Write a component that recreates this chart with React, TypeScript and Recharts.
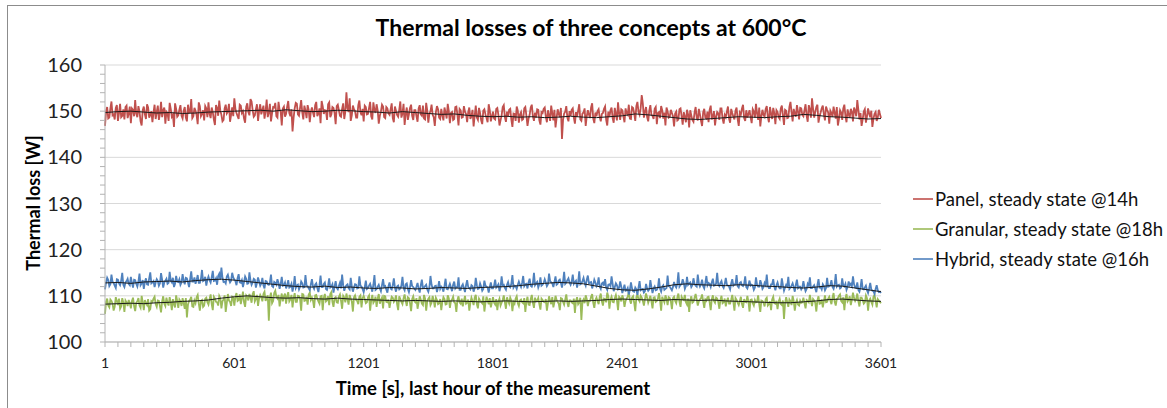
import React from "react";
import { LineChart, Line, XAxis, YAxis, CartesianGrid } from "recharts";

// readings every 5 s: "A" arrays at t = 1, 11, 21 ... 3601, "B" arrays at t = 6, 16 ... 3596
const STEP = 5;
const TREND_STEP = 60;

const panelA = [
  146.8, 150.9, 148.6, 152.1, 149.3, 150.7, 147.9, 151.6, 149.0, 148.2, 151.2, 149.5,
  147.4, 150.3, 152.4, 148.7, 149.9, 146.9, 151.0, 148.3, 150.8, 149.2, 147.6, 151.4,
  149.8, 148.1, 152.0, 150.2, 147.3, 149.6, 151.8, 148.8, 146.6, 150.5, 149.1, 151.3,
  148.4, 150.9, 147.8, 149.7, 152.6, 148.9, 150.1, 147.2, 151.1, 149.4, 148.0, 150.6,
  151.9, 148.5, 149.8, 147.0, 150.7, 152.3, 149.2, 148.1, 151.4, 149.9, 147.7, 150.8,
  152.8, 149.6, 148.3, 151.2, 150.0, 147.5, 151.7, 149.1, 152.1, 148.8, 150.4, 147.9,
  151.5, 150.2, 148.4, 152.5, 149.7, 147.8, 150.9, 151.8, 148.6, 150.3, 146.9, 151.0,
  149.4, 152.2, 148.9, 145.6, 150.6, 151.6, 149.0, 152.4, 148.2, 150.1, 151.3, 147.6,
  150.8, 148.7, 152.0, 149.5, 147.4, 151.1, 150.2, 148.1, 151.9, 149.3, 150.7, 147.2,
  151.4, 149.0, 150.5, 148.3, 154.1, 149.8, 147.9, 151.2, 150.0, 148.6, 152.3, 149.1,
  147.8, 150.9, 149.4, 152.0, 148.2, 150.3, 151.5, 147.3, 149.9, 151.0, 148.5, 150.6,
  149.2, 151.7, 147.6, 150.1, 148.8, 152.1, 149.5, 147.0, 150.8, 149.3, 151.4, 148.1,
  150.2, 147.7, 151.3, 149.0, 148.4, 151.8, 147.5, 150.0, 149.2, 146.8, 151.1, 148.6,
  150.5, 148.0, 149.7, 151.6, 147.4, 149.8, 148.3, 151.0, 146.9, 150.2, 148.7, 149.9,
  147.6, 150.8, 148.9, 146.7, 151.2, 148.1, 149.6, 147.2, 150.4, 148.5, 151.5, 147.8,
  149.9, 148.2, 150.7, 146.9, 149.1, 151.3, 147.7, 148.9, 150.5, 146.6, 149.4, 151.0,
  147.5, 149.8, 148.3, 150.9, 146.8, 149.2, 151.4, 147.9, 148.6, 150.3, 147.1, 149.6,
  150.8, 147.6, 149.1, 151.2, 148.0, 146.5, 150.4, 148.7, 144.0, 149.5, 151.1, 147.8,
  149.0, 150.6, 147.3, 148.8, 151.5, 147.9, 149.7, 146.8, 150.2, 148.5, 151.7, 147.4,
  148.9, 150.4, 147.8, 149.6, 151.0, 146.9, 148.7, 150.8, 147.5, 149.3, 151.9, 148.1,
  150.2, 147.6, 149.5, 151.4, 148.3, 150.7, 147.9, 152.0, 149.2, 153.5, 148.6, 150.9,
  147.8, 151.3, 149.0, 150.5, 147.2, 149.8, 151.1, 148.4, 146.9, 150.0, 148.8, 149.6,
  146.7, 149.9, 148.2, 150.6, 147.1, 148.8, 150.3, 146.5, 149.1, 147.7, 150.9, 148.0,
  149.3, 146.8, 150.5, 148.4, 147.6, 151.2, 148.9, 146.9, 149.8, 148.1, 150.6, 147.3,
  148.7, 151.0, 147.5, 149.6, 148.2, 150.8, 146.8, 149.3, 151.4, 147.9, 148.6, 150.2,
  147.4, 149.9, 151.6, 148.1, 146.7, 150.3, 148.8, 151.1, 147.6, 149.4, 150.7, 147.2,
  149.8, 148.3, 151.2, 147.0, 150.1, 148.6, 152.0, 147.8, 149.5, 151.3, 148.2, 150.6,
  148.9, 151.5, 147.7, 150.4, 152.8, 148.6, 150.9, 147.5, 149.7, 151.2, 148.0, 150.3,
  147.3, 149.6, 151.0, 148.4, 146.9, 150.2, 148.1, 151.4, 147.6, 149.3, 150.5, 147.8,
  150.1, 152.4, 148.2, 146.8, 149.9, 147.5, 150.6, 148.7, 146.6, 149.4, 147.9, 150.3,
  148.5,
];
const panelB = [
  149.9, 148.4, 150.6, 149.1, 148.2, 151.3, 149.6, 148.7, 150.4, 150.9, 148.5, 151.0,
  150.6, 148.9, 149.5, 151.1, 147.8, 150.2, 149.3, 151.5, 148.6, 150.0, 149.7, 148.3,
  151.2, 149.4, 148.7, 150.8, 149.9, 147.9, 150.5, 149.2, 151.7, 148.8, 150.3, 149.0,
  150.1, 148.6, 151.4, 149.8, 148.5, 150.7, 149.1, 151.9, 148.9, 150.2, 151.1, 148.7,
  149.4, 150.8, 148.2, 151.3, 149.0, 150.1, 147.8, 150.6, 149.5, 151.6, 149.2, 148.9,
  150.5, 148.9, 151.4, 149.6, 148.4, 150.9, 149.8, 152.6, 150.2, 149.1, 151.5, 150.0,
  149.3, 151.2, 150.0, 148.7, 151.6, 149.5, 150.8, 148.9, 152.0, 149.9, 150.6, 148.8,
  151.0, 149.6, 150.4, 148.6, 151.8, 149.3, 150.7, 149.8, 151.2, 148.5, 150.3, 149.9,
  149.7, 151.3, 148.9, 150.6, 152.2, 149.4, 150.1, 151.5, 148.7, 150.9, 149.6, 151.1,
  150.2, 148.8, 151.7, 149.9, 150.6, 152.8, 149.1, 150.4, 148.6, 151.3, 149.8, 150.5,
  151.2, 149.3, 150.7, 148.9, 151.9, 149.6, 150.2, 149.0, 151.4, 148.7, 150.9, 149.5,
  150.4, 148.5, 151.0, 149.2, 150.3, 148.6, 151.6, 149.4, 148.1, 150.7, 149.0, 150.2,
  148.9, 150.6, 149.3, 151.2, 148.2, 150.1, 149.5, 151.4, 148.7, 149.8, 150.4, 148.3,
  149.1, 150.8, 148.4, 150.0, 149.6, 148.1, 150.9, 149.2, 150.5, 148.6, 151.1, 149.4,
  149.8, 148.3, 150.3, 149.0, 148.6, 150.7, 148.0, 150.1, 149.3, 147.6, 150.2, 148.9,
  148.4, 150.5, 149.2, 148.0, 150.9, 148.7, 149.9, 150.3, 148.2, 149.5, 147.9, 150.1,
  149.3, 148.1, 150.6, 149.0, 148.4, 150.8, 148.9, 149.7, 150.4, 148.0, 149.8, 150.5,
  148.8, 150.2, 147.9, 149.6, 150.3, 148.5, 149.4, 150.7, 148.1, 149.9, 148.6, 150.0,
  150.3, 148.6, 149.8, 150.1, 148.2, 149.5, 150.6, 148.9, 149.3, 150.8, 148.4, 149.7,
  150.0, 148.7, 149.4, 150.5, 148.1, 149.9, 150.2, 148.5, 150.7, 148.0, 149.6, 150.4,
  148.8, 150.6, 149.2, 148.4, 150.9, 149.5, 151.1, 149.8, 150.6, 151.7, 149.9, 148.7,
  150.1, 149.2, 148.3, 150.9, 149.6, 148.5, 150.2, 149.7, 150.8, 148.6, 150.3, 148.9,
  149.5, 148.0, 150.4, 148.9, 149.8, 147.6, 149.3, 150.2, 148.1, 149.7, 148.6, 150.5,
  147.9, 149.8, 148.6, 149.9, 150.3, 148.2, 150.0, 148.8, 149.5, 150.6, 148.4, 149.2,
  149.9, 148.4, 150.5, 148.8, 150.1, 148.3, 149.7, 150.6, 148.5, 150.2, 149.4, 148.7,
  150.4, 148.6, 149.5, 150.8, 148.9, 149.2, 150.5, 148.7, 150.9, 148.3, 149.6, 150.2,
  148.7, 150.6, 149.1, 150.3, 148.5, 150.9, 149.8, 150.5, 148.8, 149.9, 150.7, 149.2,
  150.2, 149.0, 151.3, 148.6, 150.5, 149.8, 151.4, 148.9, 150.6, 149.3, 151.0, 149.7,
  150.1, 148.8, 149.6, 150.9, 148.3, 149.7, 150.6, 148.9, 150.4, 148.6, 149.9, 150.8,
  148.9, 150.3, 149.6, 148.2, 150.4, 148.8, 149.5, 150.1, 148.4, 149.8, 148.6, 149.4,
];

const granularA = [
  106.1, 109.4, 107.5, 108.9, 106.8, 109.7, 108.0, 107.2, 109.5, 106.5, 108.6, 109.1,
  107.3, 109.6, 106.7, 108.8, 107.9, 110.0, 106.9, 108.4, 109.3, 107.1, 108.7, 109.8,
  107.6, 108.9, 106.4, 109.9, 107.8, 108.5, 109.7, 106.9, 108.2, 110.1, 107.4, 108.8,
  109.5, 107.2, 105.3, 108.9, 109.8, 107.6, 108.4, 110.2, 106.8, 109.1, 107.9, 109.6,
  108.1, 110.3, 106.9, 109.4, 108.6, 110.0, 107.3, 109.2, 106.5, 110.4, 108.7, 109.8,
  107.9, 110.6, 109.1, 108.2, 110.9, 107.6, 109.8, 110.4, 108.5, 111.0, 109.3, 107.8,
  110.2, 108.8, 110.9, 109.5, 104.6, 110.7, 108.9, 111.1, 109.4, 107.7, 110.5, 109.9,
  108.3, 110.8, 109.2, 107.5, 110.6, 108.7, 109.9, 106.8, 110.3, 109.0, 108.1, 110.7,
  109.6, 107.4, 110.2, 108.8, 109.9, 106.9, 110.4, 109.1, 108.0, 110.8, 107.6, 109.7,
  108.5, 110.3, 107.2, 109.6, 110.5, 108.1, 109.4, 106.6, 110.1, 108.9, 109.8, 107.5,
  110.0, 108.4, 109.7, 106.8, 110.2, 108.9, 107.6, 110.4, 109.1, 107.3, 109.9, 108.6,
  107.4, 109.8, 108.7, 110.1, 106.9, 109.3, 108.2, 110.3, 107.8, 109.5, 106.7, 109.9,
  108.6, 107.2, 109.9, 108.3, 110.2, 106.8, 109.4, 108.0, 110.0, 107.5, 109.1, 108.4,
  106.9, 109.7, 108.1, 110.1, 107.4, 109.2, 108.6, 106.5, 109.9, 108.3, 107.7, 110.0,
  108.5, 106.8, 109.6, 108.0, 110.2, 107.3, 109.0, 108.4, 106.6, 109.8, 108.2, 107.5,
  109.7, 108.1, 106.9, 109.4, 108.5, 110.1, 107.2, 108.9, 109.6, 106.7, 108.3, 109.9,
  107.8, 109.2, 108.4, 106.5, 109.8, 108.0, 110.2, 107.4, 108.8, 109.5, 107.0, 109.1,
  108.6, 106.8, 109.9, 108.2, 107.5, 110.0, 108.7, 106.9, 109.4, 108.1, 110.3, 107.6,
  109.0, 108.4, 106.3, 109.7, 108.6, 104.8, 109.2, 110.1, 107.8, 108.9, 110.4, 107.4,
  109.6, 108.2, 110.5, 107.9, 109.3, 110.7, 107.2, 109.8, 108.6, 110.2, 106.9, 109.5,
  110.1, 107.6, 109.4, 110.8, 108.3, 109.9, 106.7, 110.3, 108.8, 109.6, 107.9, 110.5,
  108.5, 110.0, 107.3, 109.7, 108.9, 110.6, 106.8, 109.2, 110.1, 108.0, 109.5, 107.1,
  109.8, 108.4, 110.5, 107.6, 109.3, 110.2, 108.1, 106.5, 109.9, 108.7, 110.4, 107.9,
  109.2, 110.3, 107.4, 108.9, 109.8, 106.9, 110.1, 108.5, 109.4, 107.2, 110.0, 108.6,
  107.7, 109.6, 108.3, 110.2, 106.8, 109.1, 108.0, 109.8, 107.4, 108.7, 110.0, 106.6,
  109.2, 107.9, 108.6, 110.1, 106.5, 108.9, 107.7, 109.6, 108.2, 106.9, 109.8, 108.3,
  107.1, 109.4, 108.0, 105.0, 109.7, 107.6, 108.8, 110.0, 106.8, 109.1, 107.9, 108.5,
  109.6, 107.3, 108.9, 110.2, 107.8, 109.0, 106.6, 109.9, 108.4, 107.5, 110.1, 108.7,
  109.8, 108.2, 110.6, 107.9, 109.5, 110.3, 108.6, 106.9, 110.4, 109.2, 108.0, 110.7,
  108.9, 110.5, 107.7, 109.6, 108.3, 110.1, 106.8, 109.4, 108.1, 110.2, 107.5, 109.0,
  108.4,
];
const granularB = [
  108.7, 107.9, 109.2, 108.3, 107.6, 108.9, 109.4, 107.7, 108.5, 109.0, 107.8, 108.4,
  108.9, 107.8, 108.5, 109.5, 107.4, 108.7, 109.1, 108.0, 106.8, 108.9, 109.4, 108.2,
  109.0, 107.7, 108.8, 108.3, 109.6, 107.9, 108.6, 109.3, 107.5, 108.9, 109.2, 107.8,
  108.4, 109.5, 108.1, 109.2, 107.7, 109.0, 109.7, 108.3, 108.9, 107.6, 109.4, 108.6,
  109.3, 108.2, 109.8, 108.7, 107.9, 109.5, 108.8, 110.1, 108.4, 109.0, 107.8, 109.6,
  109.8, 108.9, 110.3, 109.4, 108.6, 110.1, 109.0, 109.7, 110.4, 108.8, 110.2, 109.5,
  109.7, 110.4, 108.9, 110.1, 109.6, 108.4, 110.6, 109.8, 110.2, 109.3, 108.8, 110.5,
  109.9, 108.8, 110.2, 109.5, 108.7, 110.0, 109.3, 110.4, 108.9, 109.8, 110.3, 109.1,
  108.9, 110.1, 109.4, 108.3, 110.0, 109.6, 108.8, 109.9, 110.4, 108.7, 109.5, 108.6,
  109.8, 108.9, 110.0, 108.6, 109.3, 110.2, 108.8, 109.7, 109.1, 108.2, 110.1, 109.5,
  109.3, 108.6, 110.1, 109.0, 108.5, 109.8, 109.4, 108.3, 109.6, 110.0, 108.7, 109.2,
  108.8, 109.6, 109.1, 108.2, 109.9, 108.7, 109.5, 108.9, 109.7, 108.4, 109.3, 108.8,
  109.5, 108.6, 109.2, 108.0, 109.4, 108.8, 109.7, 108.5, 109.0, 109.6, 108.2, 109.3,
  108.7, 109.3, 108.2, 109.5, 108.9, 109.8, 108.4, 109.1, 108.6, 109.4, 108.9, 108.3,
  109.2, 108.5, 108.9, 109.6, 108.2, 109.4, 108.7, 109.9, 108.4, 109.0, 109.5, 108.6,
  108.5, 109.3, 108.8, 107.9, 109.1, 108.6, 109.7, 108.3, 109.0, 108.7, 109.4, 108.4,
  109.0, 108.6, 109.5, 108.8, 108.1, 109.3, 108.5, 109.6, 108.9, 108.2, 109.4, 108.7,
  109.3, 108.4, 108.9, 109.7, 108.6, 109.1, 108.3, 109.5, 108.7, 109.2, 108.5, 109.0,
  108.6, 109.4, 108.9, 108.2, 109.6, 108.7, 108.4, 109.3, 108.9, 109.8, 108.5, 109.1,
  108.9, 109.7, 108.8, 109.4, 108.6, 109.9, 109.2, 108.7, 109.5, 109.0, 109.8, 108.8,
  109.4, 108.9, 109.8, 109.1, 109.6, 108.5, 109.7, 109.2, 110.0, 108.9, 109.3, 109.6,
  109.2, 108.8, 109.6, 108.7, 109.4, 109.0, 109.8, 108.6, 109.3, 109.7, 108.8, 109.5,
  108.9, 109.6, 108.7, 109.8, 109.1, 108.6, 109.4, 109.0, 108.5, 109.6, 109.2, 108.8,
  109.5, 108.8, 109.2, 109.7, 108.6, 109.3, 108.9, 109.6, 108.7, 109.1, 108.4, 109.4,
  108.9, 108.3, 109.2, 108.7, 109.5, 108.5, 108.9, 108.2, 109.3, 108.6, 108.8, 109.1,
  108.4, 109.1, 108.7, 108.2, 109.0, 108.5, 109.3, 107.9, 108.8, 109.2, 108.4, 108.9,
  108.8, 108.2, 109.0, 108.4, 108.7, 109.2, 108.0, 108.9, 108.5, 108.1, 109.0, 108.6,
  108.4, 109.1, 108.6, 108.9, 109.3, 108.5, 109.0, 108.3, 109.2, 108.8, 108.6, 109.4,
  109.0, 109.6, 108.7, 109.3, 110.0, 108.9, 109.7, 109.4, 108.8, 109.9, 109.2, 109.5,
  109.4, 108.8, 109.6, 109.1, 108.6, 109.5, 109.0, 108.7, 109.8, 108.9, 109.3, 108.7,
];

const hybridA = [
  111.4, 113.9, 112.1, 114.6, 112.8, 111.7, 113.5, 112.3, 115.0, 111.9, 113.2, 112.6,
  114.1, 111.8, 113.4, 112.0, 114.8, 112.7, 111.5, 113.8, 112.4, 115.1, 112.9, 111.9,
  113.6, 112.2, 114.9, 111.8, 113.3, 112.6, 115.2, 112.9, 111.9, 114.3, 113.0, 112.4,
  114.7, 112.5, 113.8, 111.9, 115.3, 113.1, 112.6, 114.5, 112.8, 115.6, 113.4, 112.2,
  114.2, 112.9, 115.4, 113.3, 112.4, 114.8, 116.1, 113.0, 112.7, 114.6, 112.9, 115.0,
  113.5, 112.3, 114.7, 112.8, 111.9, 114.2, 112.6, 115.1, 112.4, 113.7, 111.8, 114.0,
  112.2, 113.9, 111.6, 113.1, 112.4, 114.6, 111.9, 112.8, 113.6, 111.5, 114.1, 112.3,
  111.6, 113.4, 112.0, 110.9, 114.3, 112.2, 111.4, 113.1, 111.8, 114.5, 112.1, 111.2,
  113.6, 111.5, 112.7, 110.8, 114.4, 111.9, 112.9, 111.3, 113.8, 112.0, 110.7, 113.2,
  111.4, 112.8, 114.6, 111.1, 112.3, 111.7, 113.9, 110.9, 112.5, 111.6, 114.2, 112.0,
  110.8, 113.3, 111.7, 112.6, 110.9, 114.5, 111.5, 112.4, 111.0, 113.6, 112.1, 110.7,
  112.9, 111.4, 113.8, 110.9, 112.2, 111.6, 114.1, 111.2, 112.7, 110.8, 113.4, 111.9,
  111.3, 112.8, 110.7, 113.5, 111.8, 112.4, 110.9, 114.3, 111.6, 112.1, 110.8, 113.2,
  112.0, 110.9, 113.7, 111.4, 112.6, 111.0, 113.1, 111.9, 114.0, 111.3, 112.5, 110.8,
  113.4, 111.7, 112.3, 110.9, 113.9, 111.5, 112.7, 111.1, 113.3, 112.0, 110.7, 112.9,
  111.6, 113.5, 112.1, 111.0, 114.2, 112.4, 111.3, 113.0, 111.8, 114.5, 112.2, 111.5,
  113.1, 111.9, 114.3, 112.5, 111.6, 113.7, 112.0, 115.0, 112.7, 111.8, 114.0, 112.4,
  113.6, 112.1, 114.8, 112.9, 111.9, 114.2, 112.6, 113.5, 111.8, 115.2, 112.9, 113.8,
  112.4, 114.6, 113.0, 111.8, 115.3, 112.7, 113.9, 112.2, 114.4, 112.9, 111.6, 113.5,
  112.1, 114.0, 111.5, 112.9, 113.6, 111.3, 112.5, 114.2, 111.0, 112.7, 111.4, 113.1,
  110.6, 112.4, 111.2, 110.3, 112.9, 111.0, 111.8, 110.2, 113.2, 111.4, 110.7, 112.6,
  111.1, 113.4, 110.6, 112.0, 111.3, 113.8, 110.9, 112.3, 111.5, 114.4, 112.0, 111.2,
  113.0, 111.8, 115.1, 112.4, 113.6, 111.5, 114.1, 112.7, 111.9, 113.8, 112.2, 114.6,
  112.0, 113.5, 111.6, 114.3, 112.8, 111.9, 113.7, 112.3, 115.0, 112.1, 113.2, 111.7,
  113.9, 112.2, 111.4, 113.6, 112.5, 114.5, 111.8, 113.0, 112.1, 114.2, 111.6, 113.3,
  112.4, 111.3, 114.0, 112.0, 113.4, 111.5, 112.8, 114.6, 111.7, 112.5, 113.6, 111.2,
  112.9, 111.6, 113.8, 111.1, 112.4, 114.1, 111.8, 112.7, 110.9, 113.5, 112.0, 111.4,
  113.2, 111.0, 112.6, 114.0, 111.7, 112.3, 110.8, 113.6, 111.9, 112.5, 111.2, 113.9,
  112.1, 113.4, 111.5, 114.7, 112.3, 111.6, 113.8, 112.0, 111.3, 113.1, 112.6, 114.2,
  111.8, 112.9, 110.9, 113.6, 111.4, 112.2, 110.6, 112.8, 111.1, 110.4, 112.3, 110.8,
  110.6,
];
const hybridB = [
  112.9, 113.4, 112.5, 113.0, 112.2, 113.6, 112.7, 113.3, 112.4, 112.9, 113.7, 112.3,
  112.8, 113.5, 112.6, 113.1, 112.3, 113.4, 113.0, 112.5, 113.8, 112.7, 113.2, 112.9,
  113.2, 112.7, 113.5, 112.9, 113.7, 112.8, 113.3, 113.9, 112.6, 113.1, 113.6, 112.9,
  113.3, 113.9, 112.9, 113.6, 113.1, 114.0, 113.4, 112.8, 113.7, 113.2, 114.1, 113.5,
  113.4, 114.0, 113.2, 113.8, 114.3, 113.5, 113.9, 113.1, 114.2, 113.6, 113.3, 114.0,
  113.2, 113.8, 112.9, 113.4, 113.0, 113.7, 112.7, 113.3, 112.9, 113.5, 112.8, 113.1,
  112.7, 112.3, 113.2, 112.5, 112.9, 112.1, 113.0, 112.4, 112.8, 112.6, 112.2, 112.9,
  112.3, 111.8, 112.6, 112.1, 111.7, 112.4, 112.0, 112.7, 111.9, 112.2, 111.6, 112.5,
  112.0, 112.4, 111.7, 112.3, 111.9, 112.6, 111.5, 112.2, 111.8, 112.5, 112.0, 111.7,
  112.1, 111.6, 112.3, 111.9, 112.5, 111.4, 112.0, 111.8, 112.4, 111.7, 112.2, 111.5,
  111.9, 111.5, 112.2, 111.8, 112.4, 111.3, 112.0, 111.6, 112.3, 111.9, 111.4, 112.1,
  111.6, 112.3, 111.8, 112.0, 111.4, 112.2, 111.7, 112.5, 111.5, 111.9, 112.1, 111.6,
  112.0, 111.5, 112.3, 111.7, 112.1, 111.4, 111.9, 112.4, 111.6, 112.2, 111.8, 111.5,
  111.7, 112.2, 111.5, 112.0, 111.8, 112.4, 111.6, 111.9, 111.3, 112.1, 111.7, 112.3,
  111.9, 111.4, 112.1, 111.7, 112.3, 111.6, 112.0, 111.5, 112.2, 111.8, 111.9, 111.6,
  112.2, 111.8, 112.5, 111.9, 112.3, 111.7, 112.4, 112.0, 112.6, 111.8, 112.1, 112.4,
  112.4, 112.8, 112.1, 112.6, 112.9, 112.2, 112.7, 112.3, 113.0, 112.5, 112.2, 112.8,
  112.9, 112.5, 113.2, 112.7, 113.0, 112.4, 113.3, 112.8, 113.1, 112.6, 113.4, 112.9,
  113.1, 112.6, 113.3, 112.9, 112.5, 113.2, 112.8, 113.5, 112.7, 113.0, 112.4, 112.9,
  112.5, 112.0, 112.7, 112.2, 111.8, 112.4, 112.1, 112.6, 111.9, 112.3, 111.7, 112.0,
  111.5, 111.1, 111.7, 111.3, 111.6, 110.9, 111.4, 111.8, 111.2, 111.5, 111.0, 111.6,
  111.4, 111.9, 111.6, 111.2, 111.8, 111.5, 112.0, 111.3, 111.7, 112.1, 111.6, 111.9,
  112.2, 112.6, 112.0, 112.5, 112.8, 112.1, 112.4, 112.9, 112.3, 112.6, 112.0, 112.7,
  112.5, 112.1, 112.8, 112.3, 112.6, 112.9, 112.2, 112.7, 112.4, 112.8, 112.1, 112.6,
  112.4, 112.0, 112.7, 112.2, 112.5, 112.1, 112.8, 112.3, 112.6, 111.9, 112.4, 112.2,
  112.2, 111.8, 112.4, 112.0, 112.6, 111.9, 112.3, 112.1, 111.7, 112.5, 112.0, 112.3,
  112.0, 111.6, 112.3, 111.8, 112.1, 111.5, 112.2, 111.9, 112.4, 111.7, 112.0, 111.8,
  111.9, 111.5, 112.2, 111.7, 112.0, 111.6, 112.3, 111.8, 111.4, 112.1, 111.7, 112.0,
  112.3, 111.9, 112.5, 112.0, 112.4, 111.8, 112.2, 112.6, 111.9, 112.3, 112.1, 112.5,
  111.7, 111.3, 111.9, 111.5, 111.8, 111.2, 111.6, 111.4, 111.0, 111.5, 111.2, 110.9,
];

// black moving-average lines, one value per minute
const panelTrend = [
  149.7, 149.9, 150.0, 149.8, 149.6, 149.7, 149.5, 149.6, 149.8, 149.9, 150.0,
  150.1, 150.2, 150.0, 150.3, 150.1, 149.9, 150.0, 150.2, 150.1, 149.9,
  149.8, 149.6, 149.9, 149.7, 149.5, 149.3, 149.4, 149.1, 148.9, 148.8,
  148.9, 148.7, 148.8, 148.6, 148.7, 148.9, 148.7, 148.6, 148.8, 149.0,
  149.4, 149.2, 148.9, 148.6, 148.3, 148.2, 148.4, 148.6, 148.8, 148.7,
  148.6, 148.8, 148.9, 149.3, 149.1, 148.8, 148.7, 148.5, 148.3, 148.4,
];
const granularTrend = [
  108.2, 108.3, 108.4, 108.3, 108.5, 108.6, 108.8, 108.9, 109.1, 109.5, 109.8,
  110.0, 109.8, 109.6, 109.5, 109.6, 109.4, 109.3, 109.5, 109.3, 109.2,
  109.1, 109.0, 108.9, 109.0, 108.9, 108.8, 108.9, 108.8, 108.7, 108.8,
  108.9, 108.8, 108.7, 108.8, 108.9, 108.8, 108.9, 109.0, 109.2, 109.3,
  109.2, 109.1, 109.0, 109.2, 109.1, 109.0, 109.1, 108.9, 108.8, 108.7,
  108.6, 108.5, 108.5, 108.7, 108.9, 109.2, 109.3, 109.1, 108.9, 108.8,
];
const hybridTrend = [
  112.8, 112.9, 112.7, 113.0, 113.1, 113.2, 113.0, 113.3, 113.5, 113.6, 113.4,
  113.1, 112.8, 112.5, 112.2, 112.0, 111.9, 112.1, 111.8, 111.9, 111.7,
  111.6, 111.8, 111.7, 111.5, 111.6, 111.8, 111.7, 111.6, 111.8, 111.9,
  112.0, 112.2, 112.5, 112.7, 112.9, 112.8, 112.6, 112.1, 111.6, 111.3,
  111.2, 111.5, 111.9, 112.4, 112.6, 112.4, 112.3, 112.2, 112.4, 112.3,
  112.1, 112.0, 111.8, 111.7, 111.9, 112.2, 112.1, 111.7, 111.3, 110.9,
];

const xLabels = [1, 601, 1201, 1801, 2401, 3001, 3601];
const xTicks = Array.from({ length: 61 }, (_, i) => 1 + i * 60);
const yLabels = [100, 110, 120, 130, 140, 150, 160];
const yTicks = Array.from({ length: 31 }, (_, i) => 100 + i * 2);

const series = [
  { key: "panel", name: "Panel, steady state @14h", color: "#C0504D" },
  { key: "granular", name: "Granular, steady state @18h", color: "#9BBB59" },
  { key: "hybrid", name: "Hybrid, steady state @16h", color: "#4F81BD" },
];

const data: Record<string, number>[] = [];
for (let k = 0; k < panelA.length + panelB.length; k++) {
  const t = 1 + k * STEP;
  const j = Math.floor(k / 2);
  const odd = k % 2 === 1;
  const row: Record<string, number> = {
    t,
    panel: odd ? panelB[j] : panelA[j],
    granular: odd ? granularB[j] : granularA[j],
    hybrid: odd ? hybridB[j] : hybridA[j],
  };
  if ((t - 1) % TREND_STEP === 0) {
    const m = (t - 1) / TREND_STEP;
    row.panelTrend = panelTrend[m];
    row.granularTrend = granularTrend[m];
    row.hybridTrend = hybridTrend[m];
  }
  data.push(row);
}

const FONT = "Lato, 'Open Sans', sans-serif";
const AXIS = "#B3B3B3";

const XTick = (props: any) => {
  const { x, y, payload } = props;
  if (!xLabels.includes(payload.value)) return <g />;
  return (
    <text x={x} y={y + 10} textAnchor="middle" fontSize={14} fill="#222" fontFamily={FONT}>
      {payload.value}
    </text>
  );
};

const YTick = (props: any) => {
  const { x, y, payload } = props;
  if (!yLabels.includes(payload.value)) return <g />;
  return (
    <text x={x} y={y + 7} textAnchor="end" fontSize={20} fill="#222" fontFamily={FONT}>
      {payload.value}
    </text>
  );
};

export default function App() {
  return (
    <div
      style={{
        position: "absolute",
        left: 0,
        top: 0,
        width: 1167,
        height: 408,
        background: "#fff",
        fontFamily: FONT,
        overflow: "hidden",
      }}
    >
      <div
        style={{
          position: "absolute",
          left: 7,
          top: 5,
          width: 1200,
          height: 450,
          borderTop: "1px solid #8c8c8c",
          borderLeft: "1px solid #8c8c8c",
        }}
      />
      <div
        style={{
          position: "absolute",
          left: 191,
          top: 16,
          width: 800,
          textAlign: "center",
          fontSize: 23,
          lineHeight: "23px",
          fontWeight: 700,
          color: "#000",
        }}
      >
        Thermal losses of three concepts at 600°C
      </div>
      <div
        style={{
          position: "absolute",
          left: 33,
          top: 203,
          transform: "translate(-50%, -50%) rotate(-90deg)",
          whiteSpace: "nowrap",
          fontSize: 18,
          lineHeight: "20px",
          fontWeight: 700,
          color: "#000",
        }}
      >
        Thermal loss [W]
      </div>
      <div
        style={{
          position: "absolute",
          left: 193,
          top: 377,
          width: 600,
          textAlign: "center",
          fontSize: 18.5,
          lineHeight: "22px",
          fontWeight: 700,
          color: "#000",
        }}
      >
        Time [s], last hour of the measurement
      </div>
      <div style={{ position: "absolute", left: 913, top: 184 }}>
        {series.map((s) => (
          <div
            key={s.key}
            style={{ display: "flex", alignItems: "center", height: 30, fontSize: 18.5, color: "#111" }}
          >
            <svg width={22} height={4} style={{ display: "block" }}>
              <line x1={0} y1={2} x2={20} y2={2} stroke={s.color} strokeWidth={1.6} />
            </svg>
            {s.name}
          </div>
        ))}
      </div>
      <div style={{ position: "absolute", left: 0, top: 0 }}>
        <LineChart
          width={1167}
          height={408}
          data={data}
          margin={{ top: 65, right: 286, bottom: 36, left: 45 }}
        >
          <CartesianGrid
            vertical={false}
            stroke="#D9D9D9"
            horizontalValues={yLabels}
          />
          <XAxis
            dataKey="t"
            type="number"
            domain={[1, 3601]}
            ticks={xTicks}
            interval={0}
            height={30}
            tick={XTick}
            tickSize={5}
            tickMargin={11}
            axisLine={{ stroke: AXIS }}
            tickLine={{ stroke: AXIS }}
          />
          <YAxis
            type="number"
            domain={[100, 160]}
            ticks={yTicks}
            interval={0}
            width={60}
            tick={YTick}
            tickSize={5}
            tickMargin={18}
            axisLine={{ stroke: AXIS }}
            tickLine={{ stroke: AXIS }}
          />
          {series.map((s) => (
            <Line
              key={s.key}
              dataKey={s.key}
              type="linear"
              stroke={s.color}
              strokeWidth={1.8}
              dot={false}
              isAnimationActive={false}
            />
          ))}
          {series.map((s) => (
            <Line
              key={s.key + "Trend"}
              dataKey={s.key + "Trend"}
              type="linear"
              stroke="#1a1a1a"
              strokeWidth={1}
              dot={false}
              connectNulls
              isAnimationActive={false}
            />
          ))}
        </LineChart>
      </div>
    </div>
  );
}
